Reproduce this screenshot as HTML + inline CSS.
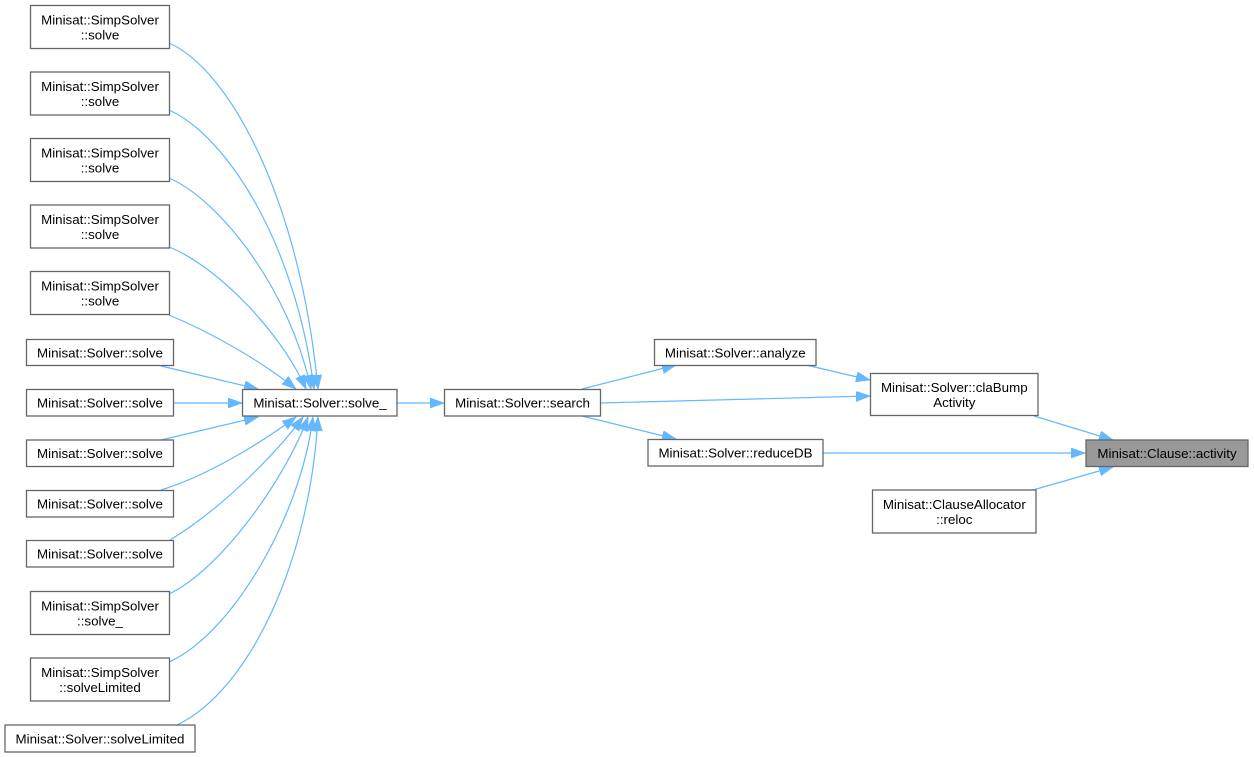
<!DOCTYPE html>
<html><head><meta charset="utf-8"><style>
html,body{margin:0;padding:0;background:#fff;}
svg{display:block;}
text{font-family:"Liberation Sans",Arial,sans-serif;font-size:13.33px;fill:#000;text-anchor:middle;}
.b{fill:#fff;stroke:#666;stroke-width:1.3;}
.e{fill:none;stroke:#63b8ff;stroke-width:1.2;}
</style></head><body>
<svg width="1254" height="757" viewBox="0 0 1254 757" xmlns="http://www.w3.org/2000/svg">
<defs>
<marker id="a" markerUnits="userSpaceOnUse" markerWidth="16" markerHeight="12" refX="14" refY="5" orient="auto">
<path d="M0,0 L14,5 L0,10 z" fill="#63b8ff" stroke="#63b8ff" stroke-width="0.8"/>
</marker>
</defs>

<!-- edges left fan top -->
<path class="e" marker-end="url(#a)" d="M169,43 C230,70 300,200 318,389"/>
<path class="e" marker-end="url(#a)" d="M169,110 C225,135 295,240 314,389"/>
<path class="e" marker-end="url(#a)" d="M169,178 C220,200 290,290 311,389"/>
<path class="e" marker-end="url(#a)" d="M169,247 C215,265 280,330 306,389"/>
<path class="e" marker-end="url(#a)" d="M169,315 C210,332 260,360 296,389"/>
<path class="e" marker-end="url(#a)" d="M161,366 L258,389"/>
<path class="e" marker-end="url(#a)" d="M174,403 L242,403"/>
<path class="e" marker-end="url(#a)" d="M161,440 L258,417"/>
<path class="e" marker-end="url(#a)" d="M161,490 C210,475 265,440 296,417"/>
<path class="e" marker-end="url(#a)" d="M170,540 C220,510 275,455 303,417"/>
<path class="e" marker-end="url(#a)" d="M169,594 C220,570 285,480 308,417"/>
<path class="e" marker-end="url(#a)" d="M169,662 C230,635 300,520 313,417"/>
<path class="e" marker-end="url(#a)" d="M177,725 C250,690 310,560 318,417"/>

<!-- right edges -->
<path class="e" marker-end="url(#a)" d="M397,403 L444,403"/>
<path class="e" marker-end="url(#a)" d="M582,389 L676,365"/>
<path class="e" marker-end="url(#a)" d="M600,403 C700,400 800,398 870,396"/>
<path class="e" marker-end="url(#a)" d="M582,416 L676,439"/>
<path class="e" marker-end="url(#a)" d="M806,365 L870,380"/>
<path class="e" marker-end="url(#a)" d="M1034,416 L1113,440"/>
<path class="e" marker-end="url(#a)" d="M823,453 L1085,453"/>
<path class="e" marker-end="url(#a)" d="M1033,490 L1113,467"/>

<!-- left column nodes -->
<rect class="b" x="30.5" y="5.5" width="139" height="43"/>
<text x="100" y="24.5">Minisat::SimpSolver</text><text x="100" y="39.5">::solve</text>
<rect class="b" x="30.5" y="72" width="139" height="43"/>
<text x="100" y="91">Minisat::SimpSolver</text><text x="100" y="106">::solve</text>
<rect class="b" x="30.5" y="138.5" width="139" height="43"/>
<text x="100" y="157.5">Minisat::SimpSolver</text><text x="100" y="172.5">::solve</text>
<rect class="b" x="30.5" y="205" width="139" height="43"/>
<text x="100" y="224">Minisat::SimpSolver</text><text x="100" y="239">::solve</text>
<rect class="b" x="30.5" y="271.5" width="139" height="43"/>
<text x="100" y="290.5">Minisat::SimpSolver</text><text x="100" y="305.5">::solve</text>

<rect class="b" x="26.5" y="339.5" width="147" height="26"/>
<text x="100" y="357.5">Minisat::Solver::solve</text>
<rect class="b" x="26.5" y="389.5" width="147" height="26.5"/>
<text x="100" y="407.5">Minisat::Solver::solve</text>
<rect class="b" x="26.5" y="440" width="147" height="26.5"/>
<text x="100" y="458">Minisat::Solver::solve</text>
<rect class="b" x="26.5" y="490.5" width="147" height="26.5"/>
<text x="100" y="508.5">Minisat::Solver::solve</text>
<rect class="b" x="26.5" y="540.5" width="147" height="26.5"/>
<text x="100" y="558.5">Minisat::Solver::solve</text>

<rect class="b" x="30.5" y="591.5" width="139" height="43"/>
<text x="100" y="610.5">Minisat::SimpSolver</text><text x="100" y="625.5">::solve_</text>
<rect class="b" x="30.5" y="658" width="139" height="43"/>
<text x="100" y="677">Minisat::SimpSolver</text><text x="100" y="692">::solveLimited</text>
<rect class="b" x="5" y="725" width="190" height="27"/>
<text x="100" y="743.5">Minisat::Solver::solveLimited</text>

<!-- middle nodes -->
<rect class="b" x="242.5" y="389.5" width="154.5" height="26.5"/>
<text x="320" y="407.5">Minisat::Solver::solve_</text>
<rect class="b" x="444.5" y="389.5" width="156" height="26.5"/>
<text x="522.5" y="407.5">Minisat::Solver::search</text>
<rect class="b" x="654.5" y="339.5" width="161.5" height="26"/>
<text x="735.3" y="357.5">Minisat::Solver::analyze</text>
<rect class="b" x="648" y="439.5" width="175" height="26.5"/>
<text x="735.5" y="457.5">Minisat::Solver::reduceDB</text>

<rect class="b" x="870.5" y="373.5" width="167.5" height="42"/>
<text x="954.3" y="392">Minisat::Solver::claBump</text><text x="954.3" y="407">Activity</text>
<rect class="b" x="872.5" y="490" width="163.5" height="43"/>
<text x="954.3" y="509">Minisat::ClauseAllocator</text><text x="954.3" y="524">::reloc</text>

<rect x="1086" y="440" width="162" height="26.5" fill="#999999" stroke="#666" stroke-width="1.3"/>
<text x="1167" y="458">Minisat::Clause::activity</text>
</svg>
</body></html>
